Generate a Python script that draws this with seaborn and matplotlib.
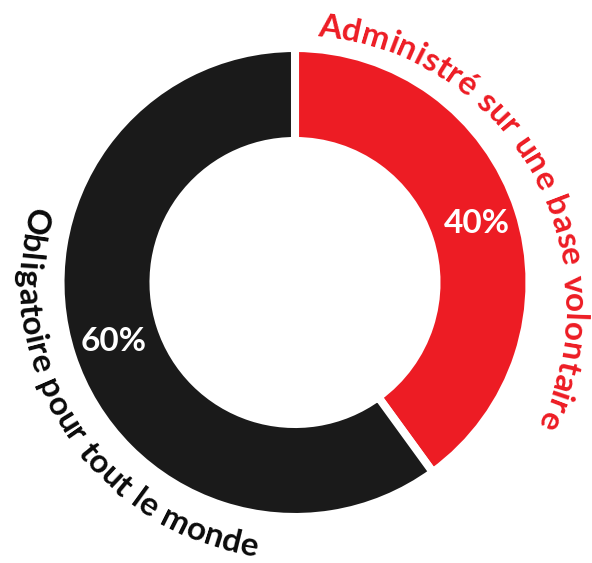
import numpy as np
import matplotlib
matplotlib.use('Agg')
import matplotlib.pyplot as plt
import seaborn as sns
from matplotlib.font_manager import FontProperties, findfont
from matplotlib.ft2font import FT2Font

# data
categories = ['Administré sur une base volontaire', 'Obligatoire pour tout le monde']
shares = [40, 60]
colors = ['#ED1C24', '#1A1A1A']
label_colors = ['#ED1C24', '#0A0A0A']

W, H, DPI = 592, 563, 100
FONT = 'Lato'


def curved_label(ax, text, center, radius, start_deg, end_deg, color, size):
    # place each character along an arc, spacing stretched to fill the span
    fp = FontProperties(family=FONT, weight='bold', size=size)
    ft = FT2Font(findfont(fp))
    ft.set_size(size, DPI)
    adv = []
    for ch in text:
        g = ft.load_char(ord(ch))
        adv.append(g.linearHoriAdvance / 65536)
    span = np.deg2rad(abs(end_deg - start_deg)) * radius
    track = (span - sum(adv)) / (len(text) - 1)
    direction = 1 if end_deg > start_deg else -1
    pos = 0.0
    for ch, a in zip(text, adv):
        s = pos + a / 2
        theta = start_deg + direction * np.rad2deg(s / radius)
        t = np.deg2rad(theta)
        x = center[0] + radius * np.cos(t)
        y = center[1] + radius * np.sin(t)
        rot = theta + 90 if direction > 0 else theta - 90
        ax.text(x, y, ch, rotation=rot, rotation_mode='anchor',
                ha='center', va='baseline', color=color,
                fontproperties=fp)
        pos += a + track


def main():
    sns.set_theme(style='white')
    plt.rcParams['font.family'] = [FONT, 'DejaVu Sans']

    fig = plt.figure(figsize=(W / DPI, H / DPI), dpi=DPI)
    ax = fig.add_axes([0, 0, 1, 1])

    cx, cy = 295, H - 282.5
    r_out = 234.5
    wedges, texts, autotexts = ax.pie(
        shares, colors=sns.color_palette(colors), startangle=90,
        counterclock=False, radius=r_out, center=(cx, cy),
        wedgeprops=dict(width=93, edgecolor='white', linewidth=5.8),
        autopct='%.0f%%', pctdistance=0.815,
        textprops=dict(color='white', fontsize=24, fontweight='bold'))

    ax.set_xlim(0, W)
    ax.set_ylim(0, H)
    ax.axis('off')

    # red label: clockwise, letters facing outward
    curved_label(ax, categories[0], (293.4, cy - 23.5), 271, 85, -26,
                 label_colors[0], 24)
    # black label: counter-clockwise, letters facing the centre
    curved_label(ax, categories[1], (cx, cy), 277, 164, 262,
                 label_colors[1], 24)

    fig.savefig('out.png', dpi=DPI, facecolor='white')


if __name__ == '__main__':
    main()
